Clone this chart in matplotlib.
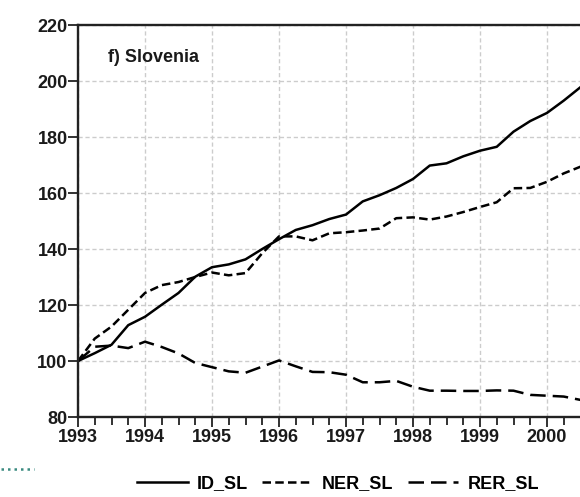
import matplotlib
matplotlib.use("Agg")
import matplotlib.pyplot as plt
from matplotlib.lines import Line2D
from matplotlib.ticker import FixedLocator

# ---- data (quarterly, 1993Q1 .. 2000Q3) ----
t = [1993 + 0.25 * i for i in range(31)]
id_sl = [100.0, 102.8, 105.8, 112.8, 115.8, 120.1, 124.3, 130.1, 133.5, 134.5,
         136.3, 140.0, 143.5, 146.8, 148.5, 150.7, 152.3, 157.0, 159.2, 161.8,
         165.0, 169.8, 170.6, 173.1, 175.1, 176.5, 181.9, 185.7, 188.6, 193.0, 197.8]
ner_sl = [100.0, 108.0, 112.3, 118.3, 124.3, 127.1, 128.2, 130.0, 131.6, 130.6,
          131.4, 138.5, 144.5, 144.5, 143.1, 145.6, 146.0, 146.6, 147.3, 151.0,
          151.3, 150.5, 151.6, 153.2, 155.0, 156.7, 161.7, 161.8, 164.0, 167.0, 169.4]
rer_sl = [100.0, 105.1, 105.5, 104.6, 106.9, 105.0, 102.7, 99.3, 97.8, 96.3,
          95.8, 98.0, 100.2, 98.1, 96.1, 96.0, 95.1, 92.4, 92.4, 92.9,
          90.8, 89.4, 89.4, 89.3, 89.3, 89.5, 89.4, 87.9, 87.6, 87.3, 86.1]
year_ticks = [1993, 1994, 1995, 1996, 1997, 1998, 1999, 2000]
year_labels = ["1993", "1994", "1995", "1996", "1997", "1998", "1999", "2000"]
y_ticks = [80, 100, 120, 140, 160, 180, 200, 220]
series_names = ["ID_SL", "NER_SL", "RER_SL"]
panel_title = "f) Slovenia"

plt.rcParams['font.family'] = ['Liberation Sans', 'DejaVu Sans']
plt.rcParams['font.weight'] = 'bold'

W, H = 580, 497
fs = 13
fig = plt.figure(figsize=(W / 100, H / 100), dpi=100)
ax = fig.add_axes([78 / W, 80 / H, 536 / W, 392 / H])

lw = 1.8
ax.plot(t, id_sl, color='black', lw=lw, linestyle='-', label=series_names[0])
ax.plot(t, ner_sl, color='black', lw=lw, linestyle=(0, (3.4, 1.7)), label=series_names[1])
ax.plot(t, rer_sl, color='black', lw=lw, linestyle=(0, (6.2, 2.8)), label=series_names[2])

ax.set_xlim(1993, 2001)
ax.set_ylim(80, 220)
ax.xaxis.set_major_locator(FixedLocator(year_ticks))
ax.set_xticklabels(year_labels)
ax.xaxis.set_minor_locator(FixedLocator([1993 + 0.25 * i for i in range(33)]))
ax.yaxis.set_major_locator(FixedLocator(y_ticks))
ax.set_yticklabels([str(v) for v in y_ticks])

ax.grid(True, which='major', color='#cccccc', linestyle=(0, (3, 2)), lw=1.0)
ax.set_axisbelow(True)
for side in ['left', 'bottom', 'top']:
    ax.spines[side].set_linewidth(1.7)
    ax.spines[side].set_color('#222222')
ax.spines['right'].set_visible(False)

ax.tick_params(axis='both', which='major', direction='out', length=7, width=1.3,
               labelsize=fs, colors='#222222', labelcolor='#1a1a1a')
ax.tick_params(axis='x', which='minor', direction='out', length=5.5, width=1.3,
               colors='#222222')
ax.tick_params(axis='x', pad=1.5)
ax.tick_params(axis='y', pad=0.5)
for lab in ax.get_xticklabels() + ax.get_yticklabels():
    lab.set_fontweight('bold')

fig.text(108 / W, 1 - 57 / H, panel_title, fontsize=fs, fontweight='bold',
         ha='left', va='center', color='#1a1a1a')

leg = fig.legend(loc='center', bbox_to_anchor=(338 / W, 1 - 484 / H), ncol=3,
                 frameon=False, handlelength=2.8, handletextpad=0.5,
                 columnspacing=0.8, prop={'weight': 'bold', 'size': fs})

fig.add_artist(Line2D([1 / W, 34 / W], [1 - 469 / H, 1 - 469 / H],
                      transform=fig.transFigure, color='#3a8a80', lw=1.8,
                      linestyle=(0, (1, 1.6))))

fig.savefig("out.png", dpi=100)
